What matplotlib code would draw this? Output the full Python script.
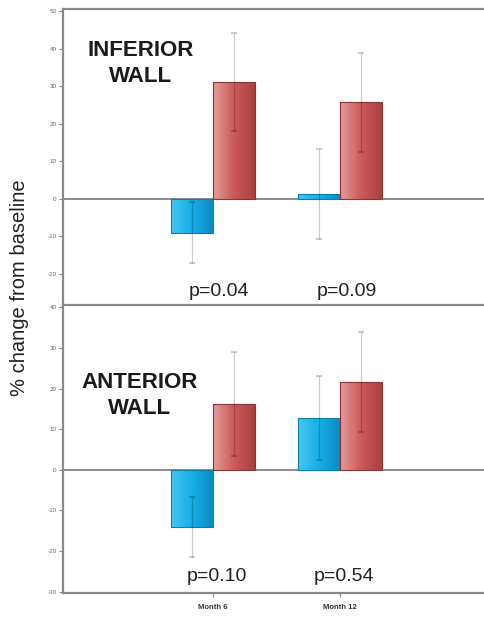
import numpy as np
import matplotlib
matplotlib.use("Agg")
import matplotlib.pyplot as plt
from matplotlib.colors import LinearSegmentedColormap

# group means (% change from baseline) and half-width of the error bars
months = ["Month 6", "Month 12"]
inferior_blue = [-9.0, 1.4]
inferior_blue_err = [8.2, 12.0]
inferior_red = [31.1, 25.7]
inferior_red_err = [13.1, 13.1]
anterior_blue = [-14.0, 12.8]
anterior_blue_err = [7.4, 10.3]
anterior_red = [16.2, 21.6]
anterior_red_err = [12.8, 12.3]
inferior_p = ["p=0.04", "p=0.09"]
anterior_p = ["p=0.10", "p=0.54"]

plt.rcParams['font.family'] = ['Liberation Sans', 'DejaVu Sans']

blue_cmap = LinearSegmentedColormap.from_list("b", ["#45c6f2", "#19ade6", "#0b8bc2"])
red_cmap = LinearSegmentedColormap.from_list("r", ["#e39a9a", "#cd5a5a", "#aa4040"])

fig = plt.figure(figsize=(4.84, 6.19), dpi=100)
ax1 = fig.add_axes([0.130, 0.509, 0.870, 0.4765])
ax2 = fig.add_axes([0.130, 0.042, 0.870, 0.465])

x = np.arange(len(months))
w = 0.33


def gradient_bars(ax, bars, cmap):
    grad = np.linspace(0, 1, 64).reshape(1, -1)
    for b in bars:
        x0, y0 = b.get_x(), b.get_y()
        x1, y1 = x0 + b.get_width(), y0 + b.get_height()
        im = ax.imshow(grad, cmap=cmap, extent=[x0, x1, min(y0, y1), max(y0, y1)],
                       aspect='auto', zorder=2, interpolation='bicubic')
        im.set_clip_path(b)


def draw_panel(ax, blue, blue_err, red, red_err, ylim, yticks):
    ax.axhline(0, color='#7a7a7a', lw=1.2, zorder=1)
    b1 = ax.bar(x - w / 2, blue, w, facecolor='none', edgecolor='#0c7fae', lw=0.8, zorder=3)
    b2 = ax.bar(x + w / 2, red, w, facecolor='none', edgecolor='#8c3434', lw=0.8, zorder=3)
    gradient_bars(ax, b1, blue_cmap)
    gradient_bars(ax, b2, red_cmap)
    for xs, vals, errs in [(x - w / 2, blue, blue_err), (x + w / 2, red, red_err)]:
        _, caps, lines = ax.errorbar(xs, vals, yerr=errs, fmt='none', ecolor=(0, 0, 0, 0.2),
                                     elinewidth=0.9, capsize=2.0, capthick=1.5, zorder=4)
        plt.setp(caps, color=(0, 0, 0, 0.55))
    ax.set_xlim(-1.18, 2.13)
    ax.set_ylim(*ylim)
    ax.set_yticks(yticks)
    ax.set_yticklabels([str(t) for t in yticks])
    ax.tick_params(axis='y', labelsize=4.5, labelcolor='#666666', color='#888888',
                   length=3, width=0.8, pad=1.5)
    for s in ['left', 'top', 'bottom']:
        ax.spines[s].set_color('#8a8a8a')
        ax.spines[s].set_linewidth(1.6)
    ax.spines['right'].set_visible(False)


draw_panel(ax1, inferior_blue, inferior_blue_err, inferior_red, inferior_red_err,
           (-28, 50.6), list(range(-20, 51, 10)))
ax1.spines['bottom'].set_visible(False)
ax1.set_xticks([])
ax1.text(-0.567, 36, "INFERIOR\nWALL", ha='center', va='center', fontsize=16,
         fontweight='bold', color='#1a1a1a', linespacing=1.3)
for xi, p in zip(x, inferior_p):
    ax1.text(xi + 0.05, -24.7, p, ha='center', va='center', fontsize=14, color='#222222')

draw_panel(ax2, anterior_blue, anterior_blue_err, anterior_red, anterior_red_err,
           (-30.3, 40.5), list(range(-30, 41, 10)))
ax2.set_xticks(x)
ax2.set_xticklabels(months)
ax2.tick_params(axis='x', labelsize=5.5, labelcolor='#333333', color='#888888',
                length=3, width=0.8, pad=5)
for lab in ax2.get_xticklabels():
    lab.set_fontweight('bold')
ax2.text(-0.575, 18.2, "ANTERIOR\nWALL", ha='center', va='center', fontsize=16,
         fontweight='bold', color='#1a1a1a', linespacing=1.3)
for xi, p in zip(x, anterior_p):
    ax2.text(xi + 0.03, -26.3, p, ha='center', va='center', fontsize=14, color='#222222')

fig.text(0.041, 0.535, "% change from baseline", rotation=90, ha='center', va='center',
         fontsize=14.5, color='#222222')

fig.savefig("out.png", dpi=100)
